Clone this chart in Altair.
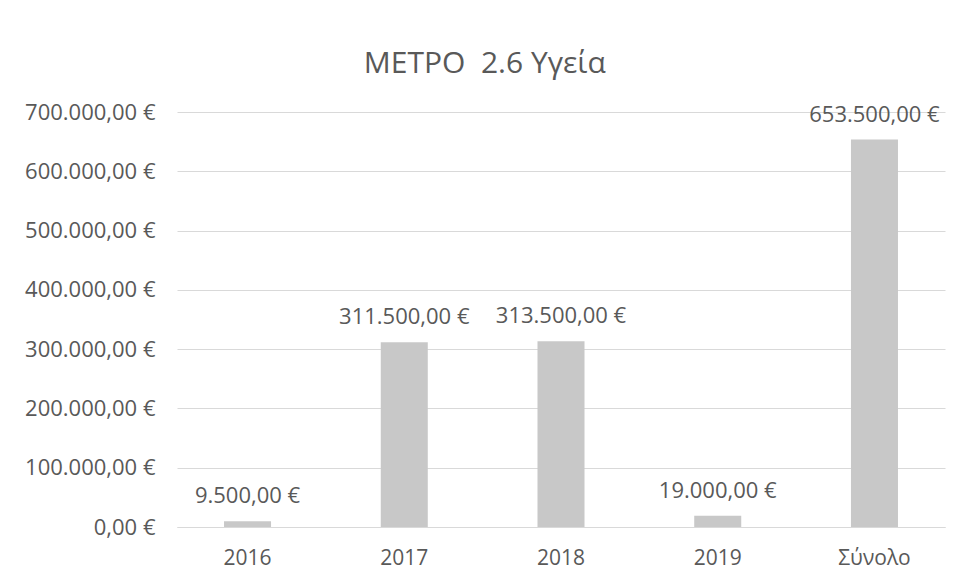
import altair as alt
import pandas as pd

categories = ["2016", "2017", "2018", "2019", "Σύνολο"]
values = [9500, 311500, 313500, 19000, 653500]
y_ticks = [0, 100000, 200000, 300000, 400000, 500000, 600000, 700000]

df = pd.DataFrame({"cat": categories, "val": values})

FONT = "Open Sans"
GREY = "#595959"

base = alt.Chart(df).encode(
    x=alt.X("cat:N", sort=categories, title=None,
            scale=alt.Scale(paddingInner=0.7, paddingOuter=0.3),
            axis=alt.Axis(labelAngle=0, labelFontSize=21, labelColor=GREY,
                          labelFont=FONT, ticks=False, domain=True,
                          domainColor="#d9d9d9", labelPadding=20)),
    y=alt.Y("val:Q", title=None,
            scale=alt.Scale(domain=[0, 700000], nice=False),
            axis=alt.Axis(values=y_ticks, format="$,.2f", labelFontSize=22,
                          labelColor=GREY, labelFont=FONT, ticks=False,
                          domain=False, gridColor="#d9d9d9", labelPadding=22)),
)

bars = base.mark_bar(color="#c8c8c8")
labels = base.mark_text(baseline="bottom", dy=-13, fontSize=22, color=GREY,
                        font=FONT).encode(text=alt.Text("val:Q", format="$,.2f"))

chart = (bars + labels).properties(
    width=768, height=415,
    title=alt.TitleParams("ΜΕΤΡΟ\u00a0 2.6 Υγεία", fontSize=30, font=FONT,
                          color=GREY, fontWeight="normal", anchor="middle",
                          frame="bounds", offset=22),
    autosize=alt.AutoSizeParams(type="none"),
    padding={"left": 169, "top": 104, "right": 4, "bottom": 50},
).configure(
    locale={"number": {"decimal": ",", "thousands": ".", "grouping": [3],
                       "currency": ["", " €"]}}
).configure_view(stroke=None)

chart.save("out.html", embed_options={"renderer": "svg", "actions": False})
